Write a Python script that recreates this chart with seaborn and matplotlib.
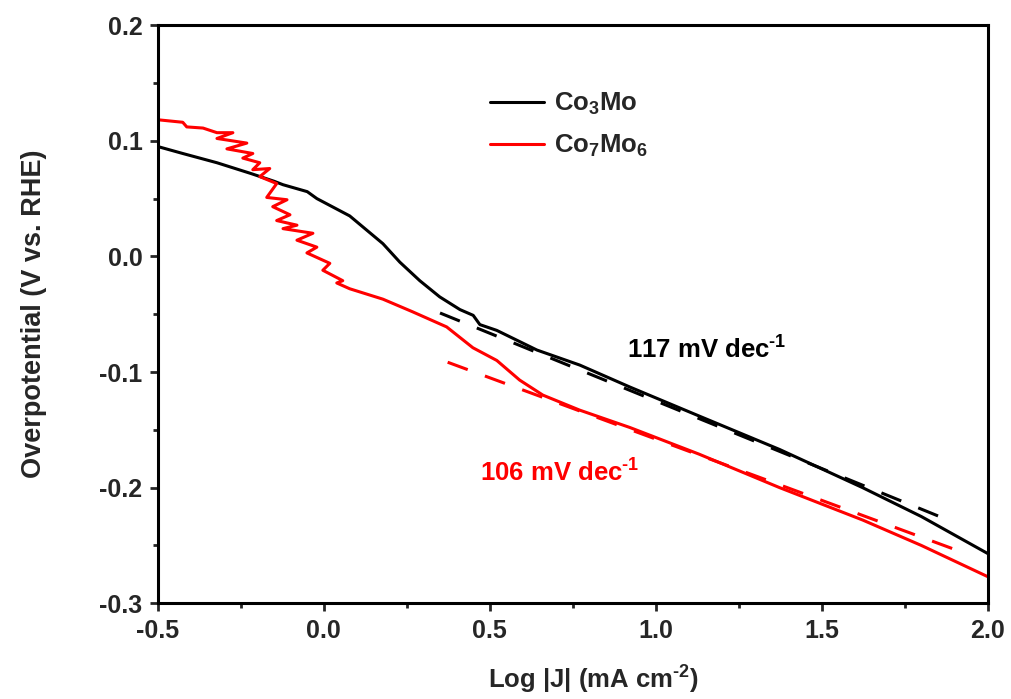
import numpy as np
import pandas as pd
import matplotlib
matplotlib.use("Agg")
import matplotlib.pyplot as plt
import seaborn as sns

# Tafel data: log|J| (mA cm^-2) vs overpotential (V vs. RHE)
co3mo_logj = [-0.5, -0.425, -0.322, -0.223, -0.15, -0.123, -0.05, -0.021, 0.078,
              0.178, 0.229, 0.289, 0.349, 0.41, 0.45, 0.47, 0.521, 0.642, 0.771, 0.922,
              1.13, 1.373, 1.623, 1.8, 2.0]
co3mo_eta = [0.095, 0.089, 0.081, 0.072, 0.065, 0.062, 0.056, 0.050, 0.035,
             0.011, -0.005, -0.021, -0.035, -0.046, -0.051, -0.059, -0.064, -0.081, -0.094, -0.113,
             -0.138, -0.167, -0.200, -0.225, -0.257]

co7mo6_logj = [-0.5, -0.494, -0.425, -0.413, -0.364, -0.322, -0.274, -0.322, -0.232, -0.292,
               -0.214, -0.244, -0.193, -0.214, -0.163, -0.193, -0.142, -0.172, -0.111,
               -0.154, -0.102, -0.142, -0.081, -0.123, -0.033, -0.081, -0.021, -0.051,
               0.018, -0.003, 0.057, 0.039, 0.078, 0.178, 0.268, 0.37, 0.449, 0.521,
               0.59, 0.66, 0.771, 0.922, 1.13, 1.373, 1.623, 1.8, 2.0]
co7mo6_eta = [0.118, 0.118, 0.116, 0.112, 0.111, 0.107, 0.107, 0.102, 0.098, 0.093,
              0.089, 0.085, 0.081, 0.075, 0.076, 0.069, 0.063, 0.051, 0.049,
              0.043, 0.036, 0.031, 0.027, 0.024, 0.020, 0.014, 0.008, 0.003,
              -0.006, -0.012, -0.021, -0.023, -0.028, -0.037, -0.048, -0.061, -0.079, -0.090,
              -0.107, -0.120, -0.133, -0.148, -0.171, -0.200, -0.228, -0.250, -0.277]

# Linear Tafel fits: slope (V/dec), intercept (V), fitted log|J| range
fit_slopes = [0.117, 0.106]
fit_intercepts = [-0.008, -0.052]
fit_ranges = [(0.35, 1.88), (0.373, 1.93)]
fit_labels = ["117 mV dec$^{\\text{-1}}$", "106 mV dec$^{\\text{-1}}$"]

series_names = ["Co$_{\\mathbf{3}}$Mo", "Co$_{\\mathbf{7}}$Mo$_{\\mathbf{6}}$"]
colors = ["black", "#ff0000"]

sns.set_theme(style="white")
plt.rcParams["font.family"] = ["Liberation Sans", "DejaVu Sans"]
plt.rcParams["font.weight"] = "bold"
plt.rcParams["mathtext.fontset"] = "custom"
plt.rcParams["mathtext.rm"] = "Liberation Sans:bold"
plt.rcParams["mathtext.bf"] = "Liberation Sans:bold"
plt.rcParams["mathtext.it"] = "Liberation Sans:bold"

fig = plt.figure(figsize=(10.12, 6.99), dpi=100)
ax = fig.add_axes([0.156, 0.137, 0.820, 0.827])

curves = [(co3mo_logj, co3mo_eta), (co7mo6_logj, co7mo6_eta)]
for (xs, ys), name, c in zip(curves, series_names, colors):
    df = pd.DataFrame({"logj": xs, "eta": ys})
    sns.lineplot(data=df, x="logj", y="eta", sort=False, estimator=None,
                 color=c, lw=2.2, label=name, ax=ax)

for slope, icpt, (x0, x1), c in zip(fit_slopes, fit_intercepts, fit_ranges, colors):
    fx = np.array([x0, x1])
    fdf = pd.DataFrame({"logj": fx, "eta": icpt - slope * fx})
    sns.lineplot(data=fdf, x="logj", y="eta", sort=False, estimator=None,
                 color=c, lw=2.2, ax=ax, legend=False, dashes=False)
    ax.lines[-1].set_dashes((7, 6))

ax.text(1.154, -0.081, fit_labels[0], color=colors[0], fontsize=18.5,
        fontweight="bold", ha="center", va="center")
ax.text(0.711, -0.187, fit_labels[1], color=colors[1], fontsize=18.5,
        fontweight="bold", ha="center", va="center")

ax.set_xlim(-0.5, 2.0)
ax.set_ylim(-0.3, 0.2)
ax.set_xticks([-0.5, 0.0, 0.5, 1.0, 1.5, 2.0])
ax.set_xticks(np.arange(-0.25, 2.0, 0.5), minor=True)
ax.set_yticks([-0.3, -0.2, -0.1, 0.0, 0.1, 0.2])
ax.set_yticks(np.arange(-0.25, 0.2, 0.1), minor=True)
ax.set_xticklabels(["-0.5", "0.0", "0.5", "1.0", "1.5", "2.0"])
ax.set_yticklabels(["-0.3", "-0.2", "-0.1", "0.0", "0.1", "0.2"])
ax.tick_params(axis="both", which="major", direction="out", length=6, width=2,
               labelsize=18, pad=5, bottom=True, left=True, top=False, right=False)
ax.tick_params(axis="both", which="minor", direction="out", length=3.5, width=2,
               bottom=True, left=True, top=False, right=False)
for lbl in ax.get_xticklabels() + ax.get_yticklabels():
    lbl.set_fontweight("bold")

for sp in ax.spines.values():
    sp.set_visible(True)
    sp.set_linewidth(2.2)
    sp.set_color("black")

ax.set_xlabel("Log |J| (mA cm$^{\\text{-2}}$)", fontsize=18.5, fontweight="bold", labelpad=15)
ax.xaxis.label.set_x(0.525)
ax.set_ylabel("Overpotential (V vs. RHE)", fontsize=19.5, fontweight="bold", labelpad=38)

leg = ax.legend(loc="upper left", bbox_to_anchor=(0.385, 0.909), frameon=False,
                borderpad=0, fontsize=18.5, handlelength=2.1, handletextpad=0.4,
                labelspacing=0.62)
for t in leg.get_texts():
    t.set_fontweight("bold")

fig.savefig("out.png", dpi=100)
